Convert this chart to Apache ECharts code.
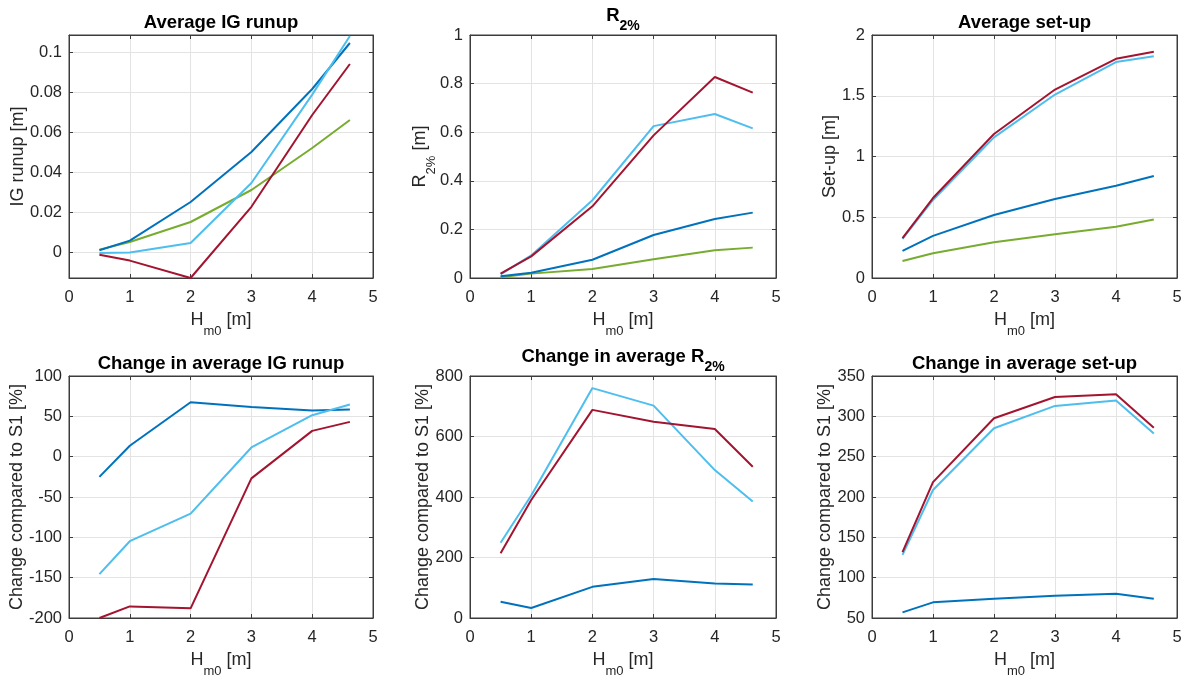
<!DOCTYPE html>
<html>
<head>
<meta charset="utf-8">
<script src="https://cdn.jsdelivr.net/npm/echarts@6/dist/echarts.min.js"></script>
<style>
  html, body { margin: 0; padding: 0; background: #ffffff; }
  #chart { width: 1192px; height: 680px; }
</style>
</head>
<body>
<div id="chart"></div>
<script>
// Offshore significant wave height Hm0 [m]
const hm0 = [0.5, 1, 2, 3, 4, 4.62];

// Average IG runup [m] per scenario
const igS1 = [0.0012, 0.005, 0.015, 0.031, 0.052, 0.066];
const igS2 = [0.0009, 0.0057, 0.025, 0.050, 0.0815, 0.1045];
const igS3 = [-0.0005, -0.0003, 0.0045, 0.0345, 0.0787, 0.108];
const igS4 = [-0.0014, -0.0043, -0.013, 0.0226, 0.0685, 0.094];

// R2% [m] per scenario
const r2S1 = [0.003, 0.018, 0.037, 0.077, 0.114, 0.125];
const r2S2 = [0.007, 0.022, 0.075, 0.177, 0.243, 0.269];
const r2S3 = [0.015, 0.093, 0.320, 0.625, 0.675, 0.616];
const r2S4 = [0.018, 0.089, 0.295, 0.587, 0.827, 0.763];

// Average set-up [m] per scenario
const suS1 = [0.140, 0.204, 0.295, 0.361, 0.421, 0.482];
const suS2 = [0.223, 0.347, 0.518, 0.650, 0.760, 0.840];
const suS3 = [0.322, 0.642, 1.157, 1.510, 1.777, 1.826];
const suS4 = [0.328, 0.658, 1.185, 1.551, 1.804, 1.862];

// Change compared to S1 [%]: average IG runup
const dIgS2 = [-25, 13.5, 67.4, 61.7, 57.1, 58.4];
const dIgS3 = [-145.6, -104.8, -70.6, 11.4, 51.4, 64.6];
const dIgS4 = [-200, -185.6, -188, -26.9, 32, 43.1];

// Change compared to S1 [%]: average R2%
const dR2S2 = [54, 33, 103, 129, 114, 111];
const dR2S3 = [249, 405, 760, 702, 489, 385];
const dR2S4 = [214, 390, 688, 649, 625, 500];

// Change compared to S1 [%]: average set-up
const dSuS2 = [57, 69.4, 73.9, 77.6, 80.1, 73.9];
const dSuS3 = [128.3, 208.7, 285.3, 312.9, 319.5, 278.7];
const dSuS4 = [131.6, 218.5, 297.7, 324, 327.3, 285.7];

// Axis tick values
const xTicks = { min: 0, max: 5, step: 1 };

const FONT = '"Liberation Sans", Arial, Helvetica, sans-serif';
const TXT = '#262626';
const AXIS = '#3c3c3c';
const GRID = '#e3e3e3';
const COLORS = { S1: '#77AC30', S2: '#0072BD', S3: '#4DBEEE', S4: '#A2142F' };

const panels = [
  { left: 69,  top: 35,  width: 304, height: 243, title: '{b|Average IG runup}', titleSub: false,
    yName: '{n|IG runup [m]}', yGap: 38, yMin: -0.013, yMax: 0.1085, yStep: null,
    lines: [['S1', igS1], ['S2', igS2], ['S3', igS3], ['S4', igS4]] },
  { left: 470, top: 35,  width: 306, height: 243, title: '{b|R}{bs|2%}', titleSub: true,
    yName: '{n|R}{s|2%}{n| [m]}', yGap: 32, yMin: 0, yMax: 1, yStep: 0.2,
    lines: [['S1', r2S1], ['S2', r2S2], ['S3', r2S3], ['S4', r2S4]] },
  { left: 872, top: 35,  width: 305, height: 243, title: '{b|Average set-up}', titleSub: false,
    yName: '{n|Set-up [m]}', yGap: 29, yMin: 0, yMax: 2, yStep: 0.5,
    lines: [['S1', suS1], ['S2', suS2], ['S3', suS3], ['S4', suS4]] },
  { left: 69,  top: 376, width: 304, height: 242, title: '{b|Change in average IG runup}', titleSub: false,
    yName: '{n|Change compared to S1 [%]}', yGap: 39, yMin: -200, yMax: 100, yStep: 50,
    lines: [['S2', dIgS2], ['S3', dIgS3], ['S4', dIgS4]] },
  { left: 470, top: 376, width: 306, height: 242, title: '{b|Change in average R}{bs|2%}', titleSub: true,
    yName: '{n|Change compared to S1 [%]}', yGap: 34, yMin: 0, yMax: 800, yStep: 200,
    lines: [['S2', dR2S2], ['S3', dR2S3], ['S4', dR2S4]] },
  { left: 872, top: 376, width: 305, height: 242, title: '{b|Change in average set-up}', titleSub: false,
    yName: '{n|Change compared to S1 [%]}', yGap: 34, yMin: 50, yMax: 350, yStep: 50,
    lines: [['S2', dSuS2], ['S3', dSuS3], ['S4', dSuS4]] }
];

// Main text sits at the top of the line box, subscripts at its bottom
const nameRich = {
  n: { fontSize: 18, lineHeight: 22, verticalAlign: 'top', color: TXT, fontFamily: FONT },
  s: { fontSize: 13, lineHeight: 27, verticalAlign: 'bottom', color: TXT, fontFamily: FONT }
};
const titleRich = {
  b:  { fontSize: 18.5, fontWeight: 'bold', lineHeight: 22, verticalAlign: 'top', color: '#000', fontFamily: FONT },
  bs: { fontSize: 14, fontWeight: 'bold', lineHeight: 27, verticalAlign: 'bottom', color: '#000', fontFamily: FONT }
};
const tickLabel = { color: TXT, fontSize: 16.5, fontFamily: FONT };
const tickStyle = { show: true, inside: true, length: 4, lineStyle: { color: AXIS, width: 1 } };

const grids = [], titles = [], xAxes = [], yAxes = [], series = [];

panels.forEach((p, i) => {
  grids.push({
    left: p.left, top: p.top, width: p.width, height: p.height,
    show: true, borderColor: AXIS, borderWidth: 1, backgroundColor: '#fff',
    containLabel: false, outerBoundsMode: 'none'
  });
  // titles are bottom-anchored: a subscript lifts the main text
  titles.push({
    text: p.title, left: p.left + p.width / 2, top: p.top - (p.titleSub ? 29 : 22), textAlign: 'center',
    padding: 0, itemGap: 0, textStyle: { rich: titleRich }
  });

  // bottom x axis with labels, and a bare top axis that closes the box with ticks
  xAxes.push({
    type: 'value', gridIndex: i, position: 'bottom',
    min: xTicks.min, max: xTicks.max, interval: xTicks.step,
    name: '{n|H}{s|m0}{n| [m]}', nameLocation: 'middle', nameGap: 33, nameMoveOverlap: false,
    nameTextStyle: { rich: nameRich },
    axisLine: { show: true, onZero: false, lineStyle: { color: AXIS, width: 1 } },
    axisTick: tickStyle,
    axisLabel: Object.assign({ margin: 11 }, tickLabel),
    splitLine: { show: true, lineStyle: { color: GRID, width: 1 } }
  });
  xAxes.push({
    type: 'value', gridIndex: i, position: 'top',
    min: xTicks.min, max: xTicks.max, interval: xTicks.step,
    axisLine: { show: true, onZero: false, lineStyle: { color: AXIS, width: 1 } },
    axisTick: tickStyle, axisLabel: { show: false }, splitLine: { show: false }
  });

  const yBase = {
    type: 'value', gridIndex: i, min: p.yMin, max: p.yMax
  };
  if (p.yStep !== null) yBase.interval = p.yStep;
  else yBase.splitNumber = 6;

  const hideEdges = p.yStep === null;
  yAxes.push(Object.assign({}, yBase, {
    position: 'left',
    name: p.yName, nameLocation: 'middle', nameGap: p.yGap, nameMoveOverlap: false,
    nameTextStyle: { rich: nameRich },
    axisLine: { show: true, onZero: false, lineStyle: { color: AXIS, width: 1 } },
    axisTick: tickStyle,
    axisLabel: Object.assign({ margin: 7, showMinLabel: !hideEdges, showMaxLabel: !hideEdges }, tickLabel),
    splitLine: { show: true, lineStyle: { color: GRID, width: 1 } }
  }));
  yAxes.push(Object.assign({}, yBase, {
    position: 'right',
    axisLine: { show: true, onZero: false, lineStyle: { color: AXIS, width: 1 } },
    axisTick: tickStyle, axisLabel: { show: false }, splitLine: { show: false }
  }));

  p.lines.forEach(([name, vals]) => {
    series.push({
      type: 'line', name: name,
      xAxisIndex: 2 * i, yAxisIndex: 2 * i,
      data: hm0.map((x, k) => [x, vals[k]]),
      showSymbol: false, symbol: 'none', silent: true,
      lineStyle: { color: COLORS[name], width: 2 },
      itemStyle: { color: COLORS[name] },
      clip: true, animation: false
    });
  });
});

const chart = echarts.init(document.getElementById('chart'), null, { renderer: 'canvas' });
chart.setOption({
  backgroundColor: '#ffffff',
  animation: false,
  textStyle: { fontFamily: FONT },
  title: titles,
  grid: grids,
  xAxis: xAxes,
  yAxis: yAxes,
  series: series
});
</script>
</body>
</html>
